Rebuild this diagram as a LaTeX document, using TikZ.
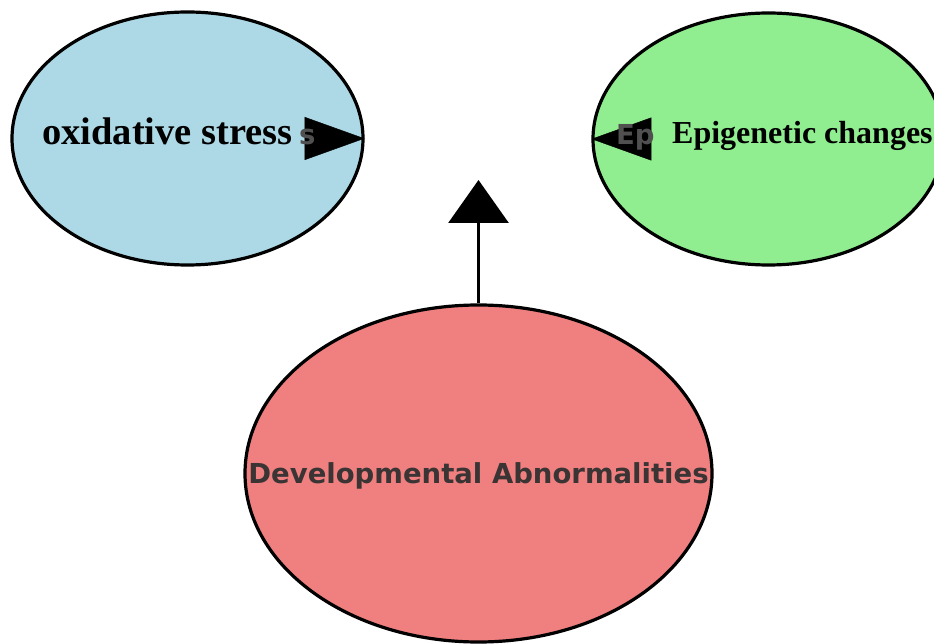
\documentclass[tikz,border=0pt]{standalone}
\usepackage{fontspec}
\setmainfont{Liberation Serif}
\newfontfamily\dejavu{DejaVu Sans}
\usetikzlibrary{shapes.geometric, arrows.meta}
\definecolor{oxblue}{RGB}{173,216,230}
\definecolor{epigreen}{RGB}{144,238,144}
\definecolor{devred}{RGB}{240,128,128}
\definecolor{darktext}{RGB}{58,52,52}
\definecolor{ghosttext}{RGB}{80,80,80}

\begin{document}
\begin{tikzpicture}[
    x=1pt, y=-1pt,
    bubble/.style={ellipse, draw, line width=3.2pt, inner sep=0pt},
    serifname/.style={font=\bfseries\fontsize{38.5}{42}\selectfont, anchor=base west, inner sep=0pt},
    sansname/.style={font=\dejavu\bfseries\fontsize{27.5}{30}\selectfont, inner sep=0pt},
    sidetip/.style={-{Triangle[length=60pt, width=43pt]}},
    uptip/.style={line width=3pt, -{Triangle[length=43pt, width=60pt]}}
  ]
  \useasboundingbox (0,0) rectangle (934,644);
  \fill[white] (0,0) rectangle (934,644);
  \node[bubble, fill=oxblue, minimum width=351pt, minimum height=253pt] (ox) at (187.5,138.5) {};
  \node[bubble, fill=epigreen, minimum width=351pt, minimum height=252pt] (epi) at (768.5,139) {};
  \node[bubble, fill=devred, minimum width=467pt, minimum height=337pt] (dev) at (478.5,473.5) {};
  \node[serifname] (oxtext) at (42,145) {oxidative stress};
  \node[serifname, font=\bfseries\fontsize{32}{36}\selectfont] (epitext) at (672,144) {Epigenetic changes};
  \node[sansname, text=darktext, anchor=base] (devtext) at (478.5,483) {Developmental Abnormalities};
  \coordinate (uptop) at (478.5,180);
  \draw[uptip] (dev.north) -- (uptop);
  \draw[sidetip] ([xshift=-60pt]ox.east) -- (ox.east);
  \draw[sidetip] ([xshift=60pt]epi.west) -- (epi.west);
  \node[sansname, text=ghosttext, anchor=base west] (oxghost) at (299,145) {s};
  \node[sansname, text=ghosttext, anchor=base west] (epighost) at (616,145) {Ep};
\end{tikzpicture}
\end{document}
